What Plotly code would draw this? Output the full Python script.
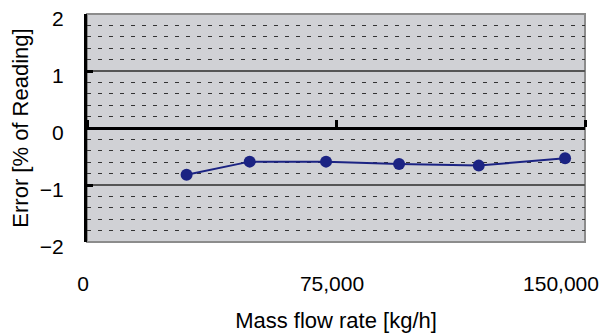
import plotly.graph_objects as go

# Data
mass_flow = [30000, 49000, 72000, 94000, 118000, 144000]
error_pct = [-0.82, -0.59, -0.59, -0.63, -0.66, -0.53]

x_tick_vals = [0, 75000, 150000]
x_tick_text = ["0", "75,000", "150,000"]
y_tick_vals = [-2, -1, 0, 1, 2]

FONT = "Liberation Sans, Arial, sans-serif"
NAVY = "#1b2383"

fig = go.Figure()
fig.add_trace(go.Scatter(
    x=mass_flow, y=error_pct, mode="lines+markers",
    line=dict(color=NAVY, width=2),
    marker=dict(color=NAVY, size=12),
    showlegend=False, hoverinfo="skip",
))
# invisible traces so the helper axes are drawn
fig.add_trace(go.Scatter(x=[None], y=[None], xaxis="x2", yaxis="y",
                         showlegend=False, hoverinfo="skip"))
fig.add_trace(go.Scatter(x=[None], y=[None], xaxis="x3", yaxis="y",
                         showlegend=False, hoverinfo="skip"))

fig.update_layout(
    width=605, height=333,
    margin=dict(l=87, r=20, t=14, b=91),
    paper_bgcolor="white",
    plot_bgcolor="#d0d1d5",
    font=dict(family=FONT, size=21, color="black"),
    # bottom labels for the first two ticks + axis title
    xaxis=dict(
        range=[0, 150000], tickvals=x_tick_vals[:2], ticktext=x_tick_text[:2],
        showline=False, ticks="", showgrid=False, zeroline=False,
        automargin=False, ticklabeloverflow="allow",
        ticklabelstandoff=27, ticklabelshift=-4,
        title=dict(text="Mass flow rate [kg/h]", standoff=20, font=dict(size=22)),
    ),
    # axis line drawn at y = 0 with upward ticks
    xaxis2=dict(
        matches="x", overlaying="x", anchor="free", position=0.5, side="top",
        tickvals=x_tick_vals, showticklabels=False,
        showline=True, linecolor="black", linewidth=3,
        ticks="outside", ticklen=7, tickwidth=3, tickcolor="black",
        showgrid=False, zeroline=False, automargin=False,
    ),
    # last label kept inside the chart area (as Excel does)
    xaxis3=dict(
        matches="x", overlaying="x", anchor="y", side="bottom",
        tickvals=x_tick_vals[2:], ticktext=x_tick_text[2:],
        showline=False, ticks="", showgrid=False, zeroline=False,
        automargin=False, ticklabeloverflow="allow",
        ticklabelstandoff=27, ticklabelshift=-24,
    ),
    yaxis=dict(
        range=[-2, 2], tickvals=y_tick_vals,
        showline=True, linecolor="black", linewidth=3,
        ticks="inside", ticklen=6, tickwidth=3, tickcolor="black",
        showgrid=True, gridcolor="#555555", gridwidth=1.5,
        zeroline=False, automargin=False, ticklabeloverflow="allow",
        minor=dict(dtick=0.2, showgrid=True, gridcolor="#333333",
                   griddash="4px,7px", gridwidth=1),
        ticklabelstandoff=16, ticklabelshift=5,
        title=dict(text="Error [% of Reading]", standoff=6, font=dict(size=22)),
    ),
    shapes=[dict(type="rect", xref="x domain", yref="y domain",
                 x0=0, x1=1, y0=0, y1=1, line=dict(color="#8c8c8c", width=2),
                 layer="below")],
)

fig.write_html("out.html", config={"displayModeBar": False},
               post_script="document.body.style.margin='0';")
